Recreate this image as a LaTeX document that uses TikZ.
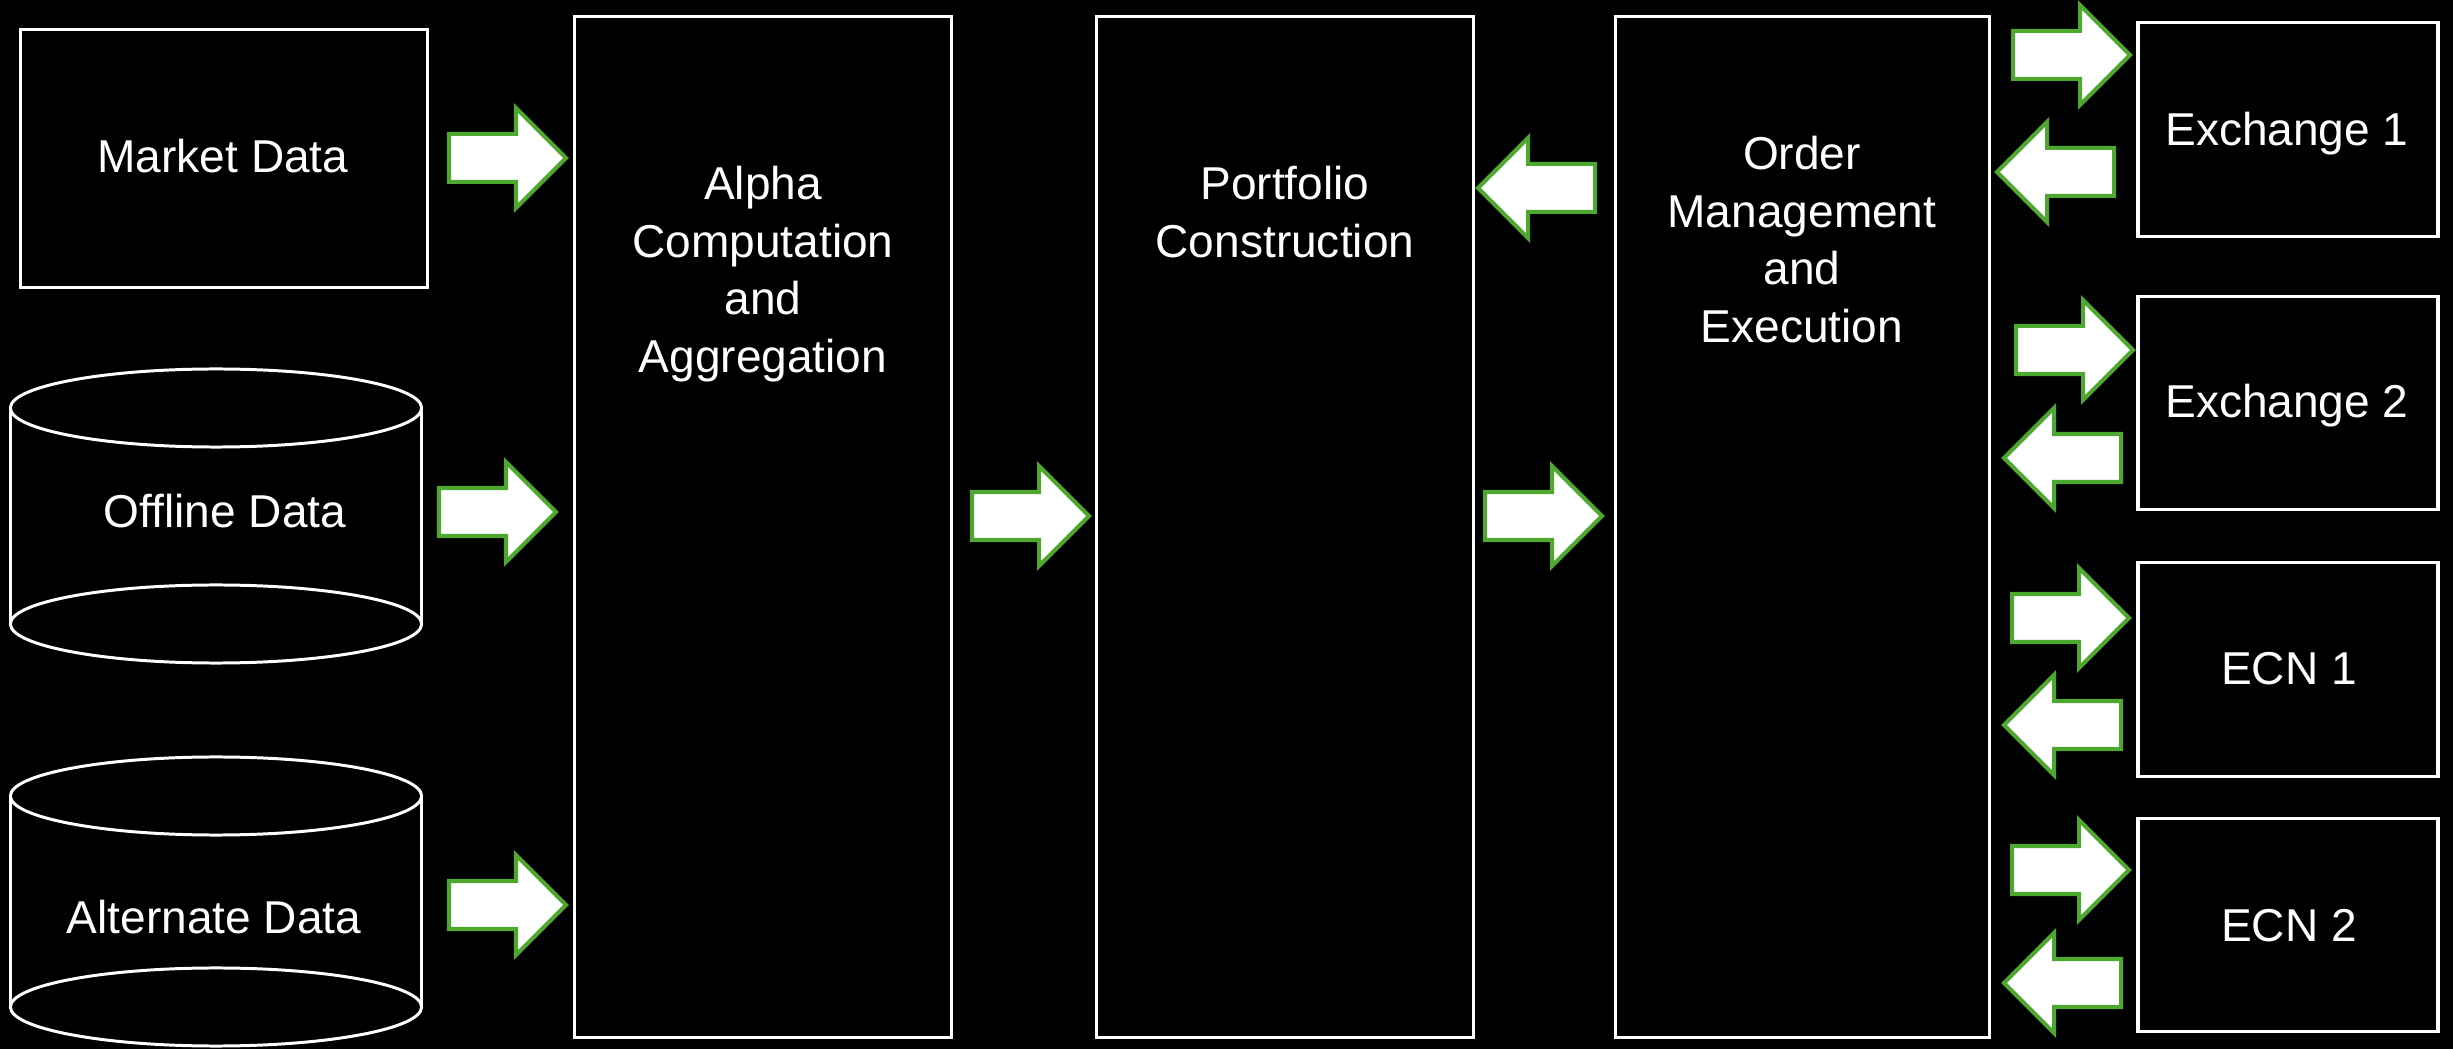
\documentclass[tikz,border=0pt]{standalone}
\usepackage{fontspec}
\setmainfont{Liberation Sans}
\definecolor{arrgreen}{RGB}{78,167,46}
\tikzset{
  box/.style={draw=white, line width=1pt, fill=black, inner sep=0pt, outer sep=0pt},
  lbl/.style={text=white, font=\fontsize{13.1}{16.4}\selectfont, align=center, inner sep=0pt, outer sep=0pt},
  cylline/.style={draw=white, line width=0.85pt},
  blockarrow/.pic={
    \draw[draw=arrgreen, fill=white, line width=1.14pt, line join=miter]
      (2,-24) -- (69,-24) -- (69,-50) -- (119,0) -- (69,50) -- (69,24) -- (2,24) -- cycle;
  }
}
\begin{document}
\begin{tikzpicture}[x=0.01cm, y=-0.01cm]
\useasboundingbox (0,0) rectangle (2453,1049);
\fill[black] (0,0) rectangle (2453,1049);

% rectangular blocks
\node[box, minimum width=4.065cm, minimum height=2.575cm] (market) at (224,158.5) {};
\node[box, minimum width=3.765cm, minimum height=10.2cm] (alpha) at (763,527) {};
\node[box, minimum width=3.765cm, minimum height=10.2cm] (portfolio) at (1285,527) {};
\node[box, minimum width=3.735cm, minimum height=10.2cm] (order) at (1802.5,527) {};
\node[box, minimum width=3.0cm, minimum height=2.135cm] (exch1) at (2288,129.5) {};
\node[box, minimum width=3.0cm, minimum height=2.125cm] (exch2) at (2288,403) {};
\node[box, minimum width=3.0cm, minimum height=2.135cm] (ecn1) at (2288,669.5) {};
\node[box, minimum width=3.0cm, minimum height=2.125cm] (ecn2) at (2288,925) {};

% cylinders
\fill[black] (10.5,408) rectangle (421.5,624);
\draw[cylline] (10.5,408) -- (10.5,624) (421.5,408) -- (421.5,624);
\draw[cylline] (216,408) ellipse [x radius=2.055cm, y radius=0.39cm];
\draw[cylline] (216,624) ellipse [x radius=2.055cm, y radius=0.39cm];

\fill[black] (10.5,796) rectangle (421.5,1007);
\draw[cylline] (10.5,796) -- (10.5,1007) (421.5,796) -- (421.5,1007);
\draw[cylline] (216,796) ellipse [x radius=2.055cm, y radius=0.39cm];
\draw[cylline] (216,1007) ellipse [x radius=2.055cm, y radius=0.39cm];

% labels
\node[lbl, anchor=base] (marketT) at (223,173) {Market Data};
\node[lbl, anchor=base] (offline) at (225,527.5) {Offline Data};
\node[lbl, anchor=base] (alternate) at (214,933) {Alternate Data};
\node[lbl, anchor=north] (alphaT) at (763,166) {Alpha\\Computation\\and\\Aggregation};
\node[lbl, anchor=north] (portfolioT) at (1285,166) {Portfolio\\Construction};
\node[lbl, anchor=north] (orderT) at (1802,136) {Order\\Management\\and\\Execution};
\node[lbl, anchor=base] (exch1T) at (2287,146) {Exchange 1};
\node[lbl, anchor=base] (exch2T) at (2287,418) {Exchange 2};
\node[lbl, anchor=base] (ecn1T) at (2289,685) {ECN 1};
\node[lbl, anchor=base] (ecn2T) at (2289,942) {ECN 2};

% block arrows (right-pointing: origin at tail)
\pic at (447,158) {blockarrow};
\pic at (437,512) {blockarrow};
\pic at (447,905) {blockarrow};
\pic at (970,516) {blockarrow};
\pic at (1483,516) {blockarrow};
\pic at (2011,55) {blockarrow};
\pic at (2014,350) {blockarrow};
\pic at (2010,618) {blockarrow};
\pic at (2010,870) {blockarrow};
% left-pointing
\pic[rotate=180] at (1597,188) {blockarrow};
\pic[rotate=180] at (2116,172) {blockarrow};
\pic[rotate=180] at (2123,458) {blockarrow};
\pic[rotate=180] at (2123,725) {blockarrow};
\pic[rotate=180] at (2123,983) {blockarrow};
\end{tikzpicture}
\end{document}
